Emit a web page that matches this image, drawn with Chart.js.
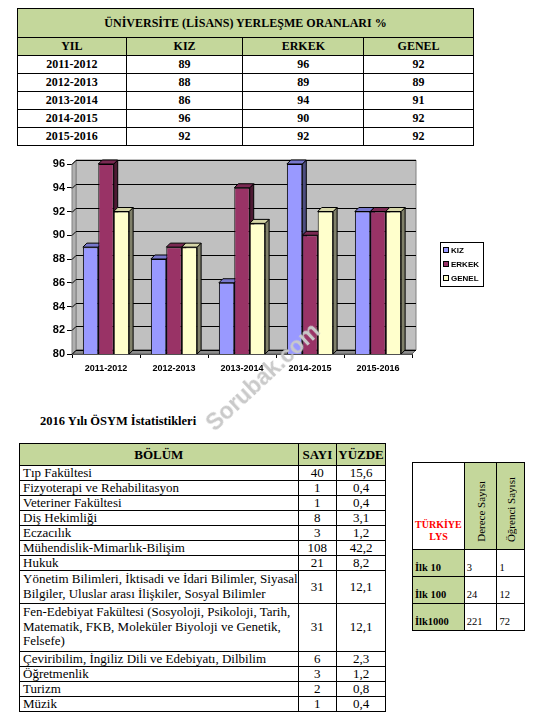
<!DOCTYPE html>
<html>
<head>
<meta charset="utf-8">
<script src="https://cdn.jsdelivr.net/npm/chart.js@4.4.1/dist/chart.umd.min.js"></script>
<style>
  html,body{margin:0;padding:0;background:#fff;}
  body{width:533px;height:722px;position:relative;overflow:hidden;font-family:"Liberation Serif","Times New Roman",serif;color:#000;}
  table{border-collapse:collapse;position:absolute;}
  td,th{border:1px solid #000;padding:0;}
  .g{background:#c4d79b;}
  #t1{left:17px;top:8px;width:457px;font-weight:bold;font-size:12px;text-align:center;}
  #t1 td{height:17px;line-height:15px;}
  #t1 tr.title td{height:28px;}
  #title2{position:absolute;left:40px;top:414px;font-weight:bold;font-size:12.5px;}
  #t2{left:19px;top:443px;width:367px;font-size:13px;border:1.5px solid #000;}
  #t2 td{line-height:14px;}
  #t2 td.n{text-align:center;}
  #t2 td.l{padding-left:3px;white-space:nowrap;}
  #t2 td.m{padding-top:1px;padding-bottom:2px;line-height:14.5px;}
  #t2 tr.h td{height:21px;font-weight:bold;text-align:center;}
  #t3{left:412px;top:462px;width:113px;font-size:10.5px;border:1.5px solid #000;}
  #t3 td{vertical-align:bottom;height:23px;padding:0 0 3px 2px;}
  #t3 tr.h td{height:80px;}
  #t3 .red{color:#ff0000;font-weight:bold;text-align:center;padding:0 0 6px 0;font-size:10px;line-height:12px;}
  #t3 .rot{writing-mode:vertical-rl;transform:rotate(180deg);font-size:11px;display:inline-block;}
  #t3 td.rc{text-align:center;padding:0 0 5px 0;}
  #t3 td.b{font-weight:bold;}
  #chartWrap{position:absolute;left:30px;top:150px;width:460px;height:230px;}
  #wm{position:absolute;left:263px;top:377px;transform:translate(-50%,-50%) rotate(-43deg);font-family:"Liberation Sans",Arial,sans-serif;font-weight:bold;font-size:23px;color:#c9c9c9;white-space:nowrap;z-index:5;}
</style>
</head>
<body>
<table id="t1"></table>
<div id="chartWrap"><canvas id="c" width="460" height="230"></canvas></div>
<div id="title2">2016 Yılı ÖSYM İstatistikleri</div>
<table id="t2"></table>
<table id="t3"></table>
<div id="wm">Sorubak.com</div>
<script>
// ---- data ----
const years = ["2011-2012","2012-2013","2013-2014","2014-2015","2015-2016"];
const kiz   = [89, 88, 86, 96, 92];
const erkek = [96, 89, 94, 90, 92];
const genel = [92, 89, 91, 92, 92];
const seriesNames = ["KIZ","ERKEK","GENEL"];
const yTicks = [80,82,84,86,88,90,92,94,96];

const bolumler = [
  "Tıp Fakültesi",
  "Fizyoterapi ve Rehabilitasyon",
  "Veteriner Fakültesi",
  "Diş Hekimliği",
  "Eczacılık",
  "Mühendislik-Mimarlık-Bilişim",
  "Hukuk",
  "Yönetim Bilimleri, İktisadi ve İdari Bilimler, Siyasal<br>Bilgiler, Uluslar arası İlişkiler, Sosyal Bilimler",
  "Fen-Edebiyat Fakültesi (Sosyoloji, Psikoloji, Tarih,<br>Matematik, FKB, Moleküler Biyoloji ve Genetik,<br>Felsefe)",
  "Çeviribilim, İngiliz Dili ve Edebiyatı, Dilbilim",
  "Öğretmenlik",
  "Turizm",
  "Müzik"
];
const sayi  = ["40","1","1","8","3","108","21","31","31","6","3","2","1"];
const yuzde = ["15,6","0,4","0,4","3,1","1,2","42,2","8,2","12,1","12,1","2,3","1,2","0,8","0,4"];

const lysRows   = ["İlk 10","İlk 100","İlk1000"];
const dereceSay = ["3","24","221"];
const ogrenciSay= ["1","12","72"];

// ---- tables ----
(function(){
  let h = '<colgroup><col style="width:109px"><col style="width:117px"><col style="width:121px"><col style="width:110px"></colgroup>';
  h += '<tr class="title"><td class="g" colspan="4">ÜNİVERSİTE (LİSANS) YERLEŞME ORANLARI %</td></tr>';
  h += '<tr><td class="g">YIL</td><td class="g">KIZ</td><td class="g">ERKEK</td><td class="g">GENEL</td></tr>';
  years.forEach((y,i)=>{ h += `<tr><td>${y}</td><td>${kiz[i]}</td><td>${erkek[i]}</td><td>${genel[i]}</td></tr>`; });
  document.getElementById('t1').innerHTML = h;

  let h2 = '<colgroup><col style="width:275px"><col style="width:42px"><col style="width:50px"></colgroup>';
  h2 += '<tr class="h"><td class="g">BÖLÜM</td><td class="g">SAYI</td><td class="g">YÜZDE</td></tr>';
  bolumler.forEach((b,i)=>{
    const m = b.indexOf('<br>')>=0 ? ' m' : '';
    h2 += `<tr><td class="l${m}">${b}</td><td class="n">${sayi[i]}</td><td class="n">${yuzde[i]}</td></tr>`;
  });
  document.getElementById('t2').innerHTML = h2;

  let h3 = '<colgroup><col style="width:52px"><col style="width:33px"><col style="width:28px"></colgroup>';
  h3 += '<tr class="h"><td class="red">TÜRKİYE<br>LYS</td><td class="g rc"><span class="rot">Derece Sayısı</span></td><td class="g rc"><span class="rot">Öğrenci Sayısı</span></td></tr>';
  lysRows.forEach((r,i)=>{ h3 += `<tr><td class="g b">${r}</td><td>${dereceSay[i]}</td><td>${ogrenciSay[i]}</td></tr>`; });
  document.getElementById('t3').innerHTML = h3;
})();

// ---- chart ----
const frontColors = ["#9999ff","#993366","#ffffcc"];
const topColors   = ["#7777cc","#7a2952","#d6d6a8"];
const sideColors  = ["#4d4d80","#4d1a33","#80806a"];
const DEPTH = 4;

function poly(ctx, pts, fill, stroke){
  ctx.beginPath();
  ctx.moveTo(pts[0][0], pts[0][1]);
  for(let k=1;k<pts.length;k++) ctx.lineTo(pts[k][0], pts[k][1]);
  ctx.closePath();
  if(fill){ctx.fillStyle=fill;ctx.fill();}
  if(stroke){ctx.strokeStyle=stroke;ctx.lineWidth=1;ctx.stroke();}
}

const threeD = {
  id:'threeD',
  beforeDatasetsDraw(chart){
    const {ctx, chartArea:a, scales:{y}} = chart;
    const d = DEPTH;
    ctx.save();
    // back wall
    poly(ctx, [[a.left+d,a.top-d],[a.right+d,a.top-d],[a.right+d,a.bottom-d],[a.left+d,a.bottom-d]], '#c0c0c0', '#808080');
    // left wall
    poly(ctx, [[a.left,a.top],[a.left+d,a.top-d],[a.left+d,a.bottom-d],[a.left,a.bottom]], '#b0b0b0', '#808080');
    // floor
    poly(ctx, [[a.left,a.bottom],[a.left+d,a.bottom-d],[a.right+d,a.bottom-d],[a.right,a.bottom]], '#8c8c8c', '#606060');
    // grid lines
    ctx.strokeStyle = '#000'; ctx.lineWidth = 1;
    y.ticks.forEach(t=>{
      const py = Math.round(y.getPixelForValue(t.value)) + 0.5;
      ctx.beginPath();
      ctx.moveTo(a.left, py);
      ctx.lineTo(a.left+d, py-d);
      ctx.lineTo(a.right+d, py-d);
      ctx.stroke();
    });
    // 3D faces of bars (side + top), in left-to-right order
    const bars = [];
    chart.data.datasets.forEach((ds,i)=>{
      chart.getDatasetMeta(i).data.forEach(el=>bars.push({el,i}));
    });
    bars.sort((p,q)=>p.el.x-q.el.x);
    bars.forEach(({el,i})=>{
      const w = el.width, x0 = el.x - w/2, x1 = el.x + w/2, yt = el.y, b = Math.min(el.base, a.bottom);
      poly(ctx, [[x1,yt],[x1+d,yt-d],[x1+d,b-d],[x1,b]], sideColors[i], '#000');
      poly(ctx, [[x0,yt],[x0+d,yt-d],[x1+d,yt-d],[x1,yt]], topColors[i], '#000');
    });
    ctx.restore();
  },
  afterDraw(chart){
    const {ctx, chartArea:a} = chart;
    const lx = a.right + 28, ly = (a.top + a.bottom)/2 - 17;
    ctx.save();
    ctx.strokeStyle = '#000'; ctx.lineWidth = 1;
    ctx.strokeRect(lx+0.5, ly+0.5, 43, 44);
    ctx.font = 'bold 8px "Liberation Sans", Arial, sans-serif';
    ctx.textBaseline = 'middle';
    chart.data.datasets.forEach((ds,i)=>{
      const cy = ly + 8 + i*14;
      ctx.fillStyle = ds.backgroundColor;
      ctx.fillRect(lx+3, cy-3, 6, 6);
      ctx.strokeStyle = '#000';
      ctx.strokeRect(lx+3.5, cy-2.5, 5, 5);
      ctx.fillStyle = '#000';
      ctx.fillText(ds.label, lx+11, cy+0.5);
    });
    ctx.restore();
  }
};

const seriesData = [kiz, erkek, genel];
new Chart(document.getElementById('c'), {
  type:'bar',
  data:{
    labels: years,
    datasets: seriesNames.map((n,i)=>({
      label:n, data:seriesData[i],
      backgroundColor:frontColors[i], borderColor:'#000', borderWidth:1,
      categoryPercentage:0.68, barPercentage:1.0
    }))
  },
  options:{
    responsive:false, animation:false, devicePixelRatio:1,
    layout:{padding:{top:14,right:78,left:0,bottom:0}},
    plugins:{legend:{display:false}, tooltip:{enabled:false}},
    scales:{
      x:{
        grid:{display:true, drawOnChartArea:false, drawTicks:true, tickLength:4, color:'#000', offset:true},
        border:{display:true, color:'#404040'},
        ticks:{color:'#000', padding:5, maxRotation:0, autoSkip:false, font:{family:'"Liberation Sans", Arial, sans-serif', weight:'bold', size:9}},
        afterFit(s){ s.height = 26; }
      },
      y:{
        min:80, max:96,
        afterBuildTicks(s){ s.ticks = yTicks.map(v=>({value:v})); },
        grid:{display:true, drawOnChartArea:false, drawTicks:true, tickLength:5, color:'#000'},
        border:{display:true, color:'#808080'},
        ticks:{color:'#000', padding:2, font:{family:'"Liberation Sans", Arial, sans-serif', weight:'bold', size:11}},
        afterFit(s){ s.width = 42; }
      }
    }
  },
  plugins:[threeD]
});
</script>
</body>
</html>
